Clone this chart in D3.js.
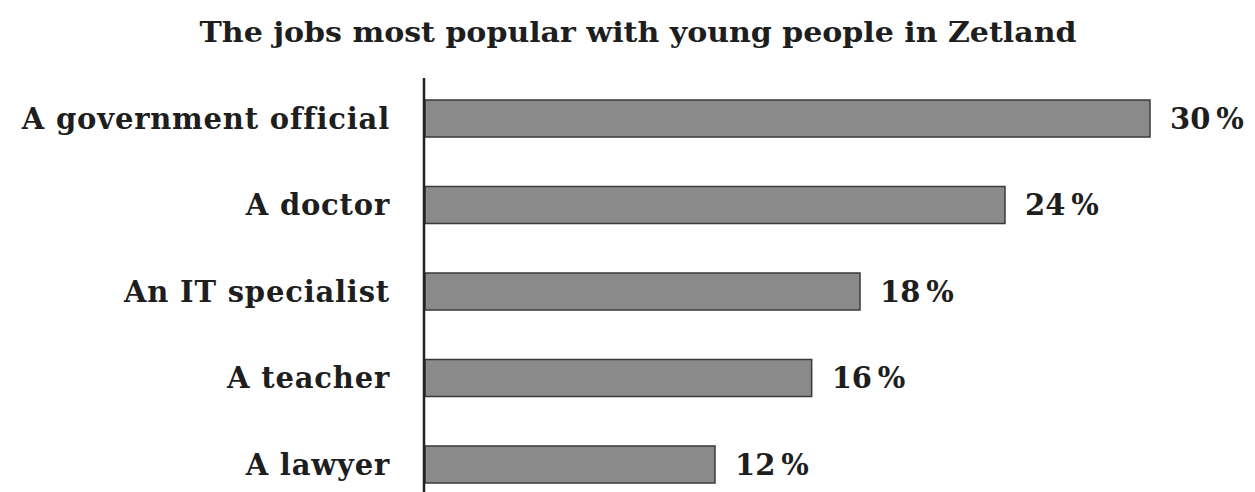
<!DOCTYPE html>
<html><head><meta charset="utf-8">
<script src="https://cdn.jsdelivr.net/npm/d3@7"></script>
<style>body{margin:0;background:#fff}svg{display:block}</style>
</head><body>
<svg id="c" width="1255" height="492"></svg>
<script>
const title = "The jobs most popular with young people in Zetland";
const categories = ["A government official","A doctor","An IT specialist","A teacher","A lawyer"];
const values = [30,24,18,16,12];
const valueLabels = ["30\u2009%","24\u2009%","18\u2009%","16\u2009%","12\u2009%"];

const svg = d3.select("#c");
const W = 1255, H = 492;
const x0 = 425;
const x = d3.scaleLinear().domain([0,30]).range([x0,1150]);
const y = d3.scaleBand().domain(categories).range([100,483]).paddingInner(0.572).paddingOuter(0);

const font = "'DejaVu Serif', 'Liberation Serif', serif";

svg.append("text").attr("x",638).attr("y",42).attr("text-anchor","middle")
  .attr("font-family","'DejaVu Serif Condensed', 'DejaVu Serif', serif").attr("font-weight","bold")
  .attr("font-size",28).attr("fill","#1e1e1e").text(title)
  .attr("textLength",877).attr("lengthAdjust","spacingAndGlyphs");

const g = svg.append("g");
g.selectAll("rect").data(values).join("rect")
  .attr("x",x0).attr("y",(d,i)=>y(categories[i]))
  .attr("width",d=>x(d)-x0).attr("height",y.bandwidth())
  .attr("fill","#8a8a8a").attr("stroke","#3a3a3a").attr("stroke-width",1.5);

g.selectAll("text.cat").data(categories).join("text").attr("class","cat")
  .attr("x",390).attr("y",d=>y(d)+y.bandwidth()/2).attr("dy","0.36em")
  .attr("text-anchor","end").attr("font-family",font).attr("font-weight","bold")
  .attr("font-size",29).attr("letter-spacing",0.8).attr("fill","#1e1e1e").text(d=>d);

g.selectAll("text.val").data(values).join("text").attr("class","val")
  .attr("x",d=>x(d)+20).attr("y",(d,i)=>y(categories[i])+y.bandwidth()/2).attr("dy","0.36em")
  .attr("font-family",font).attr("font-weight","bold")
  .attr("font-size",29).attr("fill","#1e1e1e").text((d,i)=>valueLabels[i]);

svg.append("line").attr("x1",x0-1).attr("x2",x0-1).attr("y1",78).attr("y2",H)
  .attr("stroke","#222").attr("stroke-width",2.5);
</script>
</body></html>
